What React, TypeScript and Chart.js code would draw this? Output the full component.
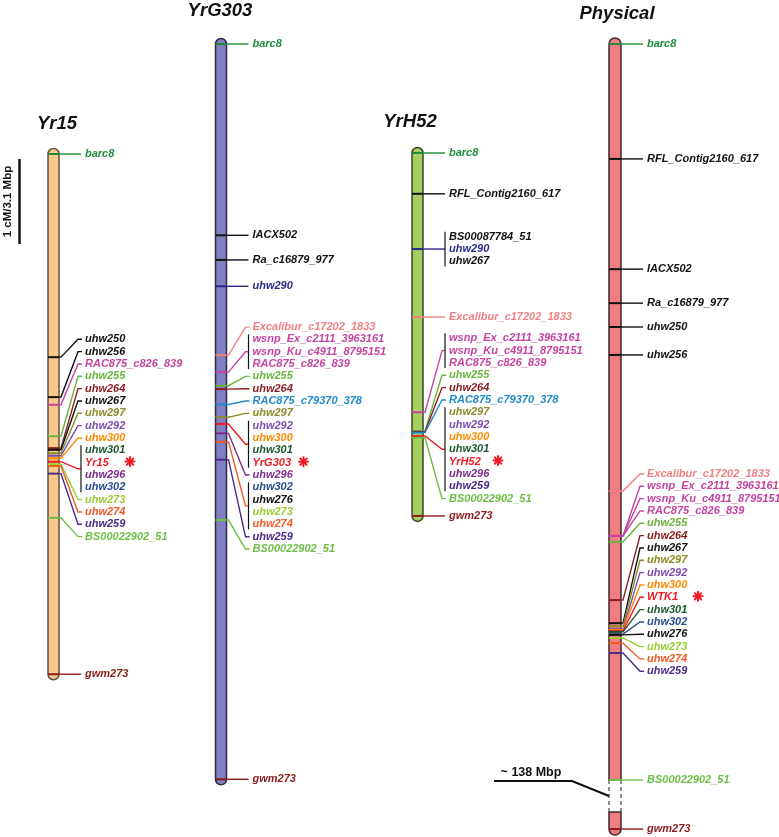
import React, { useEffect, useRef } from "react";
import { Chart, registerables } from "chart.js";

Chart.register(...registerables);

// ---------------- data (cM from barc8; physical in Mbp from barc8) ----------------
const yr15Markers = ["barc8", "uhw250", "uhw256", "RAC875_c826_839", "uhw255", "uhw264", "uhw267", "uhw297", "uhw292", "uhw300", "uhw301", "Yr15", "uhw296", "uhw302", "uhw273", "uhw274", "uhw259", "BS00022902_51", "gwm273"];
const yr15Pos = [0, 2.39, 2.86, 2.95, 3.32, 3.46, 3.48, 3.52, 3.55, 3.58, 3.62, 3.62, 3.62, 3.62, 3.65, 3.67, 3.76, 4.28, 6.12];

const yrg303Markers = ["barc8", "IACX502", "Ra_c16879_977", "uhw290", "Excalibur_c17202_1833", "wsnp_Ex_c2111_3963161", "wsnp_Ku_c4911_8795151", "RAC875_c826_839", "uhw255", "uhw264", "RAC875_c79370_378", "uhw297", "uhw292", "uhw300", "uhw301", "YrG303", "uhw296", "uhw302", "uhw276", "uhw273", "uhw274", "uhw259", "BS00022902_51", "gwm273"];
const yrg303Pos = [0, 2.25, 2.54, 2.85, 3.66, 3.86, 3.86, 3.86, 4.02, 4.06, 4.24, 4.39, 4.47, 4.47, 4.47, 4.47, 4.58, 4.68, 4.68, 4.68, 4.68, 4.89, 5.6, 8.65];

const yrh52Markers = ["barc8", "RFL_Contig2160_617", "BS00087784_51", "uhw290", "uhw267", "Excalibur_c17202_1833", "wsnp_Ex_c2111_3963161", "wsnp_Ku_c4911_8795151", "RAC875_c826_839", "uhw255", "uhw264", "RAC875_c79370_378", "uhw297", "uhw292", "uhw300", "uhw301", "YrH52", "uhw296", "uhw259", "BS00022902_51", "gwm273"];
const yrh52Pos = [0, 0.48, 1.13, 1.13, 1.13, 1.93, 3.05, 3.05, 3.05, 3.27, 3.28, 3.29, 3.33, 3.33, 3.33, 3.33, 3.33, 3.33, 3.33, 3.35, 4.27];

const physicalMarkers = ["barc8", "RFL_Contig2160_617", "IACX502", "Ra_c16879_977", "uhw250", "uhw256", "Excalibur_c17202_1833", "wsnp_Ex_c2111_3963161", "wsnp_Ku_c4911_8795151", "RAC875_c826_839", "uhw255", "uhw264", "uhw267", "uhw297", "uhw292", "uhw300", "WTK1", "uhw301", "uhw302", "uhw276", "uhw273", "uhw274", "uhw259", "BS00022902_51", "gwm273"];
const physicalPosMbp = [0, 4.19, 8.21, 9.45, 10.32, 11.34, 16.3, 17.94, 17.94, 17.94, 18.16, 20.28, 21.12, 21.23, 21.34, 21.37, 21.41, 21.44, 21.52, 21.55, 21.66, 21.85, 22.21, 26.84, 28.63];
const physicalBreakMbp = [26.84, 28.01];

const mapTitles = ["Yr15", "YrG303", "YrH52", "Physical"];
const genes = ["Yr15", "YrG303", "YrH52", "WTK1"];
const mbpPerCM = 3.1;
const scaleBarLabel = "1 cM/3.1 Mbp";
const hiddenSpanLabel = "~ 138 Mbp";

// ---------------- styles / layout ----------------
const CANVAS_W = 779;
const CANVAS_H = 837;
const PX_PER_CM = 85;
const LINE_H = 12.33;
const LABEL_FONT = 'italic bold 11px "Liberation Sans", Arial, sans-serif';
const TITLE_FONT = 'italic bold 18.5px "Liberation Sans", Arial, sans-serif';

const markerColor: Record<string, string> = {
  barc8: "#1E8C3A",
  uhw290: "#2B2A86",
  Excalibur_c17202_1833: "#F07F80",
  wsnp_Ex_c2111_3963161: "#C4449E",
  wsnp_Ku_c4911_8795151: "#C4449E",
  RAC875_c826_839: "#C4449E",
  uhw255: "#6AB43E",
  uhw264: "#8B1C1C",
  RAC875_c79370_378: "#1F8ACB",
  uhw297: "#8C8C28",
  uhw292: "#7B4DB0",
  uhw300: "#FF8A00",
  uhw301: "#1E5631",
  Yr15: "#EE1C25",
  YrG303: "#EE1C25",
  YrH52: "#EE1C25",
  WTK1: "#EE1C25",
  uhw296: "#7D2C8C",
  uhw302: "#2A4B8D",
  uhw273: "#9ACD32",
  uhw274: "#F15A24",
  uhw259: "#4B2C8A",
  BS00022902_51: "#6DBE45",
  gwm273: "#8B1C1C",
};
const colorOf = (n: string) => markerColor[n] || "#111111";

type MapDef = {
  title: string;
  gene: string;
  names: string[];
  pos: number[];
  perCM: number;
  center: number;
  width: number;
  fill: string;
  stroke: string;
  origin: number;
  titleX: number;
  titleY: number;
  stackFrom: number;
  stackTo: number;
  stackTop: number;
  brackets: boolean;
  starDx: number;
  breakRange?: number[];
};

const maps: MapDef[] = [
  { title: mapTitles[0], gene: genes[0], names: yr15Markers, pos: yr15Pos, perCM: 1, center: 53.5, width: 11, fill: "#F9C88B", stroke: "#5E5240", origin: 1.812, titleX: 57, titleY: 129, stackFrom: 1, stackTo: 17, stackTop: 2.18, brackets: true, starDx: 45 },
  { title: mapTitles[1], gene: genes[1], names: yrg303Markers, pos: yrg303Pos, perCM: 1, center: 221, width: 11, fill: "#8080C0", stroke: "#2B2B48", origin: 0.518, titleX: 220, titleY: 16, stackFrom: 4, stackTo: 22, stackTop: 3.33, brackets: true, starDx: 51 },
  { title: mapTitles[2], gene: genes[2], names: yrh52Markers, pos: yrh52Pos, perCM: 1, center: 417.5, width: 11, fill: "#A6CE60", stroke: "#3A4528", origin: 1.8, titleX: 410, titleY: 127, stackFrom: 6, stackTo: 19, stackTop: 2.18, brackets: true, starDx: 49 },
  { title: mapTitles[3], gene: genes[3], names: physicalMarkers, pos: physicalPosMbp, perCM: mbpPerCM, center: 615, width: 12, fill: "#EF7D82", stroke: "#3A2A2A", origin: 0.518, titleX: 617, titleY: 19, stackFrom: 6, stackTo: 22, stackTop: 15.68, brackets: false, starDx: 51, breakRange: physicalBreakMbp },
];

const SCALE_BAR_TOP_CM = 1.871;
const SCALE_BAR_X = 19.5;

function mapY(m: MapDef, v: number) {
  return m.origin + v / m.perCM;
}

type Group = { start: number; end: number; stacked: boolean };

function buildGroups(m: MapDef): Group[] {
  const groups: Group[] = [];
  const n = m.names.length;
  const inStack = (i: number) => i >= m.stackFrom && i <= m.stackTo;
  let i = 0;
  while (i < n) {
    let j = i;
    if (m.brackets) {
      while (j + 1 < n && m.pos[j + 1] === m.pos[i] && inStack(j + 1) === inStack(i)) j++;
    }
    groups.push({ start: i, end: j, stacked: inStack(i) });
    i = j + 1;
  }
  return groups;
}

function groupColor(m: MapDef, g: Group) {
  const names = m.names.slice(g.start, g.end + 1);
  if (names.includes(m.gene)) return colorOf(m.gene);
  const nb = names.filter((n) => colorOf(n) !== "#111111");
  return colorOf(nb.length ? nb[nb.length - 1] : names[0]);
}

function drawStar(ctx: CanvasRenderingContext2D, x: number, y: number, r: number) {
  ctx.save();
  ctx.strokeStyle = "#EE1C25";
  ctx.lineWidth = 2;
  ctx.lineCap = "round";
  ctx.beginPath();
  for (let k = 0; k < 4; k++) {
    const a = (k * Math.PI) / 4;
    ctx.moveTo(x - Math.cos(a) * r, y - Math.sin(a) * r);
    ctx.lineTo(x + Math.cos(a) * r, y + Math.sin(a) * r);
  }
  ctx.stroke();
  ctx.restore();
}

const mapPlugin = {
  id: "geneticMaps",
  beforeDatasetsDraw(chart: any) {
    const ctx: CanvasRenderingContext2D = chart.ctx;
    const xs = chart.scales.x;
    const ys = chart.scales.y;
    ctx.save();
    maps.forEach((m) => {
      const cx = xs.getPixelForValue(m.center);
      const r = m.width / 2;
      const L = cx - r;
      const R = cx + r;
      const yOf = (v: number) => ys.getPixelForValue(mapY(m, v));
      const top = yOf(m.pos[0]);
      const bot = yOf(m.pos[m.pos.length - 1]);
      const segs: [number, number, boolean, boolean][] = m.breakRange
        ? [[top, yOf(m.breakRange[0]), true, false], [yOf(m.breakRange[1]), bot, false, true]]
        : [[top, bot, true, true]];
      segs.forEach(([s0, s1, capT, capB]) => {
        ctx.beginPath();
        ctx.moveTo(L, s0);
        if (capT) ctx.arc(cx, s0, r, Math.PI, 0, false);
        else ctx.lineTo(R, s0);
        ctx.lineTo(R, s1);
        if (capB) ctx.arc(cx, s1, r, 0, Math.PI, false);
        else ctx.lineTo(L, s1);
        ctx.closePath();
        ctx.fillStyle = m.fill;
        ctx.fill();
        ctx.lineWidth = 1.5;
        ctx.strokeStyle = m.stroke;
        ctx.stroke();
      });
      if (m.breakRange) {
        const b0 = yOf(m.breakRange[0]);
        const b1 = yOf(m.breakRange[1]);
        ctx.save();
        ctx.setLineDash([4, 3]);
        ctx.strokeStyle = "#555555";
        ctx.lineWidth = 1.3;
        ctx.beginPath();
        ctx.moveTo(L, b0);
        ctx.lineTo(L, b1);
        ctx.moveTo(R, b0);
        ctx.lineTo(R, b1);
        ctx.stroke();
        ctx.restore();
      }
    });
    ctx.restore();
  },
  afterDatasetsDraw(chart: any) {
    const ctx: CanvasRenderingContext2D = chart.ctx;
    const xs = chart.scales.x;
    const ys = chart.scales.y;
    ctx.save();
    maps.forEach((m) => {
      const cx = xs.getPixelForValue(m.center);
      const r = m.width / 2;
      const L = cx - r;
      const R = cx + r;
      const labelX = R + 26;
      const yOf = (v: number) => ys.getPixelForValue(mapY(m, v));
      const stackTopPx = yOf(m.stackTop);
      const groups = buildGroups(m);
      const ly: number[] = new Array(m.names.length);
      groups.forEach((g) => {
        const size = g.end - g.start + 1;
        for (let i = g.start; i <= g.end; i++) {
          if (g.stacked) ly[i] = stackTopPx + (i - m.stackFrom) * LINE_H;
          else ly[i] = yOf(m.pos[g.start]) + (i - g.start - (size - 1) / 2) * LINE_H;
        }
      });

      // leaders
      groups.forEach((g) => {
        const size = g.end - g.start + 1;
        const py = yOf(m.pos[g.start]);
        const col = groupColor(m, g);
        ctx.strokeStyle = col;
        ctx.lineWidth = 1.4;
        ctx.beginPath();
        if (size === 1 && !g.stacked) {
          ctx.moveTo(R, py);
          ctx.lineTo(labelX - 4, py);
        } else if (size === 1) {
          const y = ly[g.start];
          ctx.moveTo(R, py);
          ctx.lineTo(R + 2, py);
          ctx.lineTo(labelX - 7, y);
          ctx.lineTo(labelX - 3, y);
        } else {
          const bx = labelX - 4;
          const gc = (ly[g.start] + ly[g.end]) / 2;
          ctx.moveTo(R, py);
          ctx.lineTo(R + 2, py);
          ctx.lineTo(bx - 3, gc);
          ctx.lineTo(bx, gc);
        }
        ctx.stroke();
        if (size > 1) {
          const bx = labelX - 4;
          ctx.strokeStyle = "#111111";
          ctx.lineWidth = 1.2;
          ctx.beginPath();
          ctx.moveTo(bx, ly[g.start] - 5);
          ctx.lineTo(bx, ly[g.end] + 5);
          ctx.stroke();
        }
      });

      // labels
      ctx.font = LABEL_FONT;
      ctx.textAlign = "left";
      ctx.textBaseline = "middle";
      m.names.forEach((n, i) => {
        ctx.fillStyle = colorOf(n);
        ctx.fillText(n, labelX, ly[i]);
        if (n === m.gene) drawStar(ctx, labelX + m.starDx, ly[i] - 1, 4.5);
      });

      // title
      ctx.font = TITLE_FONT;
      ctx.textAlign = "center";
      ctx.textBaseline = "alphabetic";
      ctx.fillStyle = "#111111";
      ctx.fillText(m.title, m.titleX, m.titleY);

      // break annotation
      if (m.breakRange) {
        const b0 = yOf(m.breakRange[0]);
        const b1 = yOf(m.breakRange[1]);
        ctx.strokeStyle = "#111111";
        ctx.lineWidth = 2;
        ctx.beginPath();
        ctx.moveTo(L - 115, b0 + 1);
        ctx.lineTo(L - 37, b0 + 1);
        ctx.lineTo(L, (b0 + b1) / 2);
        ctx.stroke();
        ctx.font = 'bold 12.5px "Liberation Sans", Arial, sans-serif';
        ctx.textAlign = "center";
        ctx.fillStyle = "#111111";
        ctx.fillText(hiddenSpanLabel, L - 78, b0 - 4);
      }
    });

    // scale bar
    const sx = xs.getPixelForValue(SCALE_BAR_X);
    const s0 = ys.getPixelForValue(SCALE_BAR_TOP_CM);
    const s1 = ys.getPixelForValue(SCALE_BAR_TOP_CM + 1);
    ctx.strokeStyle = "#111111";
    ctx.lineWidth = 2.5;
    ctx.beginPath();
    ctx.moveTo(sx, s0);
    ctx.lineTo(sx, s1);
    ctx.stroke();
    ctx.save();
    ctx.translate(sx - 12, (s0 + s1) / 2);
    ctx.rotate(-Math.PI / 2);
    ctx.font = 'bold 11.5px "Liberation Sans", Arial, sans-serif';
    ctx.textAlign = "center";
    ctx.textBaseline = "middle";
    ctx.fillStyle = "#111111";
    ctx.fillText(scaleBarLabel, 0, 0);
    ctx.restore();

    ctx.restore();
  },
};

export default function App() {
  const ref = useRef<HTMLCanvasElement | null>(null);
  useEffect(() => {
    if (!ref.current) return;
    const datasets = maps.map((m) => {
      const groups = buildGroups(m);
      const pts: { x: number; y: number }[] = [];
      const cols: string[] = [];
      groups.forEach((g) => {
        pts.push({ x: m.center, y: mapY(m, m.pos[g.start]) });
        cols.push(groupColor(m, g));
      });
      return {
        label: m.title,
        data: pts,
        pointStyle: "line" as const,
        pointRadius: m.width / 2,
        pointHoverRadius: m.width / 2,
        pointBorderWidth: 2,
        pointBorderColor: cols,
        pointBackgroundColor: cols,
        showLine: false,
      };
    });
    const chart = new Chart(ref.current, {
      type: "scatter",
      data: { datasets },
      options: {
        animation: false,
        responsive: false,
        devicePixelRatio: 1,
        events: [],
        layout: { padding: 0, autoPadding: false },
        plugins: { legend: { display: false }, tooltip: { enabled: false } },
        scales: {
          x: { type: "linear", min: 0, max: CANVAS_W, display: false },
          y: { type: "linear", min: 0, max: CANVAS_H / PX_PER_CM, reverse: true, display: false },
        },
      },
      plugins: [mapPlugin],
    });
    return () => chart.destroy();
  }, []);
  return (
    <div style={{ position: "absolute", left: 0, top: 0, width: CANVAS_W, height: CANVAS_H, background: "#fff" }}>
      <canvas ref={ref} width={CANVAS_W} height={CANVAS_H} style={{ display: "block" }} />
    </div>
  );
}
